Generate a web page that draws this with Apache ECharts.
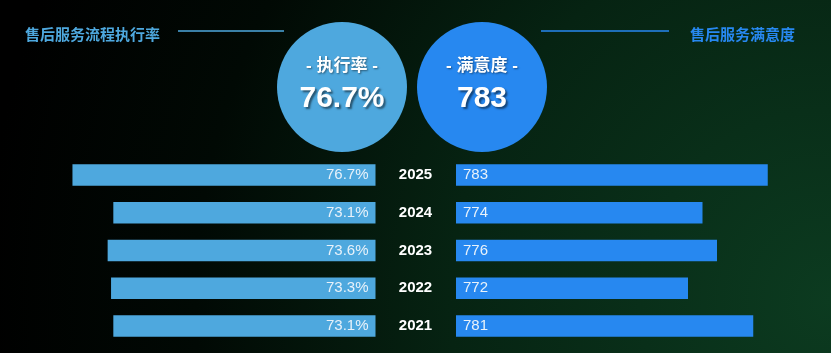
<!DOCTYPE html>
<html>
<head>
<meta charset="utf-8">
<script src="https://cdn.jsdelivr.net/npm/echarts@6/dist/echarts.min.js"></script>
<style>
html, body { margin: 0; padding: 0; background: #000; }
#chart { width: 831px; height: 353px; }
</style>
</head>
<body>
<div id="chart"></div>
<script>
let years = ['2025', '2024', '2023', '2022', '2021']
let execRate = [76.7, 73.1, 73.6, 73.3, 73.1]
let satisfaction = [783, 774, 776, 772, 781]

let leftTitle = '售后服务流程执行率'
let rightTitle = '售后服务满意度'
let rateName = '执行率'
let satName = '满意度'

let fontFamily = "'Liberation Sans', 'Noto Sans CJK SC', sans-serif"
let rateColor = '#4ea8de'
let satColor = '#2788f0'

let chartDom = document.getElementById('chart')
let myChart = echarts.init(chartDom)

function kpiCircle(cx, color, name, value) {
    return [
        {
            type: 'circle',
            shape: { cx: cx, cy: 87, r: 65 },
            style: { fill: color }
        },
        {
            type: 'text',
            x: cx, y: 66,
            style: {
                text: '- ' + name + ' -',
                fill: '#fff',
                font: 'bold 17px ' + fontFamily,
                textAlign: 'center',
                textVerticalAlign: 'middle',
                textShadowColor: 'rgba(0,0,0,0.45)',
                textShadowBlur: 2,
                textShadowOffsetX: 1,
                textShadowOffsetY: 1
            }
        },
        {
            type: 'text',
            x: cx, y: 99,
            style: {
                text: value,
                fill: '#fff',
                font: 'bold 30px ' + fontFamily,
                textAlign: 'center',
                textVerticalAlign: 'middle',
                textShadowColor: 'rgba(0,0,0,0.5)',
                textShadowBlur: 2,
                textShadowOffsetX: 2,
                textShadowOffsetY: 2
            }
        }
    ]
}

let option = {
    backgroundColor: new echarts.graphic.RadialGradient(1, 0.85, 2.4, [
        { offset: 0, color: '#0c3b20' },
        { offset: 0.45, color: '#062312' },
        { offset: 0.75, color: '#010904' },
        { offset: 1, color: '#000000' }
    ]),
    animation: false,
    graphic: [
        {
            type: 'text',
            x: 25, y: 36,
            style: {
                text: leftTitle,
                fill: rateColor,
                font: 'bold 15px ' + fontFamily,
                textAlign: 'left',
                textVerticalAlign: 'middle'
            }
        },
        {
            type: 'line',
            shape: { x1: 178, y1: 31, x2: 284, y2: 31 },
            style: { stroke: rateColor, lineWidth: 1.5 }
        },
        {
            type: 'line',
            shape: { x1: 541, y1: 31, x2: 669, y2: 31 },
            style: { stroke: satColor, lineWidth: 1.5 }
        },
        {
            type: 'text',
            x: 795, y: 36,
            style: {
                text: rightTitle,
                fill: satColor,
                font: 'bold 15px ' + fontFamily,
                textAlign: 'right',
                textVerticalAlign: 'middle'
            }
        },
        ...kpiCircle(342, rateColor, rateName, execRate[0] + '%'),
        ...kpiCircle(482, satColor, satName, String(satisfaction[0]))
    ],
    grid: [
        { left: 35, width: 340.5, top: 156, height: 189 },
        { left: 456, width: 362.5, top: 156, height: 189 }
    ],
    xAxis: [
        { type: 'value', gridIndex: 0, min: 50, max: 80, inverse: true, show: false },
        { type: 'value', gridIndex: 1, min: 740, max: 790, show: false }
    ],
    yAxis: [
        {
            type: 'category',
            gridIndex: 0,
            data: years,
            inverse: true,
            position: 'right',
            axisLine: { show: false },
            axisTick: { show: false },
            splitLine: { show: false },
            axisLabel: {
                align: 'center',
                margin: 40,
                color: '#fff',
                fontWeight: 'bold',
                fontSize: 15,
                fontFamily: fontFamily
            }
        },
        {
            type: 'category',
            gridIndex: 1,
            data: years,
            inverse: true,
            show: false
        }
    ],
    series: [
        {
            name: rateName,
            type: 'bar',
            xAxisIndex: 0,
            yAxisIndex: 0,
            data: execRate,
            barWidth: 21.5,
            itemStyle: { color: rateColor },
            label: {
                show: true,
                position: 'insideRight',
                distance: 7,
                formatter: '{c}%',
                color: '#e8f2fa',
                fontSize: 15,
                fontFamily: fontFamily
            }
        },
        {
            name: satName,
            type: 'bar',
            xAxisIndex: 1,
            yAxisIndex: 1,
            data: satisfaction,
            barWidth: 21.5,
            itemStyle: { color: satColor },
            label: {
                show: true,
                position: 'insideLeft',
                distance: 7,
                color: '#e8f2fa',
                fontSize: 15,
                fontFamily: fontFamily
            }
        }
    ]
}

myChart.setOption(option)
</script>
</body>
</html>
